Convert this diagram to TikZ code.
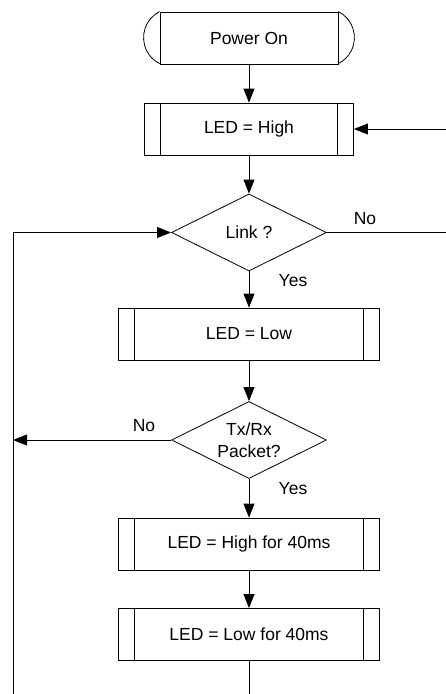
\documentclass[tikz,border=0pt]{standalone}
\usepackage{fontspec}
\setmainfont{Liberation Sans}
\usetikzlibrary{arrows.meta,shapes.geometric}
\tikzset{
  txt/.style={font=\fontsize{17.5}{22}\selectfont},
  line/.style={line width=0.8pt},
  arr/.style={line,-{Triangle[length=14pt,width=11pt]}},
  startbox/.style={draw,line,txt,minimum width=178pt,minimum height=52pt,inner sep=0pt},
  procbox/.style={draw,line,txt,minimum height=52pt,inner sep=0pt,
    path picture={\draw[line] ([xshift=16pt]path picture bounding box.north west) -- ([xshift=16pt]path picture bounding box.south west)
      ([xshift=-16pt]path picture bounding box.north east) -- ([xshift=-16pt]path picture bounding box.south east);}},
  decbox/.style={diamond,draw,line,txt,aspect=2,minimum width=155pt,minimum height=77pt,inner sep=0pt,align=center},
  lbl/.style={txt,inner sep=0pt}
}
\begin{document}
\begin{tikzpicture}[x=1pt,y=1pt]
  \useasboundingbox (0,0) rectangle (446,-694);
  \node[startbox] (pwr) at (249,-38) {Power On};
  \draw[line] (pwr.north west) arc[start angle=116.7,end angle=243.3,radius=29.1pt]
    (pwr.north east) arc[start angle=63.3,end angle=-63.3,radius=29.1pt];
  \node[procbox,minimum width=209pt] (ledhi) at (249,-129) {LED = High};
  \node[decbox] (link) at (249,-232.5) {Link ?};
  \node[procbox,minimum width=261pt] (ledlo) at (249,-334) {LED = Low};
  \node[decbox] (pkt) at (249,-440) {Tx/Rx\\Packet?};
  \node[procbox,minimum width=261pt] (hi40) at (249,-544) {LED = High for 40ms};
  \node[procbox,minimum width=261pt] (lo40) at (249,-634.5) {LED = Low for 40ms};
  \coordinate (lft) at (13,-694);
  \coordinate (bot) at (249,-694);
  \coordinate (rgtin) at (446,-129);
  \coordinate (rgtout) at (446,-232.5);
  \node[lbl] (nolink) at (365,-219) {No};
  \node[lbl] (yeslink) at (293,-281) {Yes};
  \node[lbl] (nopkt) at (144,-426) {No};
  \node[lbl] (yespkt) at (293,-489) {Yes};
  \draw[arr] (pwr) -- (ledhi);
  \draw[arr] (ledhi) -- (link);
  \draw[arr] (link) -- (ledlo);
  \draw[arr] (ledlo) -- (pkt);
  \draw[arr] (pkt) -- (hi40);
  \draw[arr] (hi40) -- (lo40);
  \draw[line] (lo40) -- (bot);
  \draw[arr] (lft) |- (link.west);
  \draw[line] (link.east) -- (rgtout);
  \draw[arr] (rgtin) -- (ledhi.east);
  \draw[arr] (pkt.west) -- (pkt.west -| lft);
\end{tikzpicture}
\end{document}
